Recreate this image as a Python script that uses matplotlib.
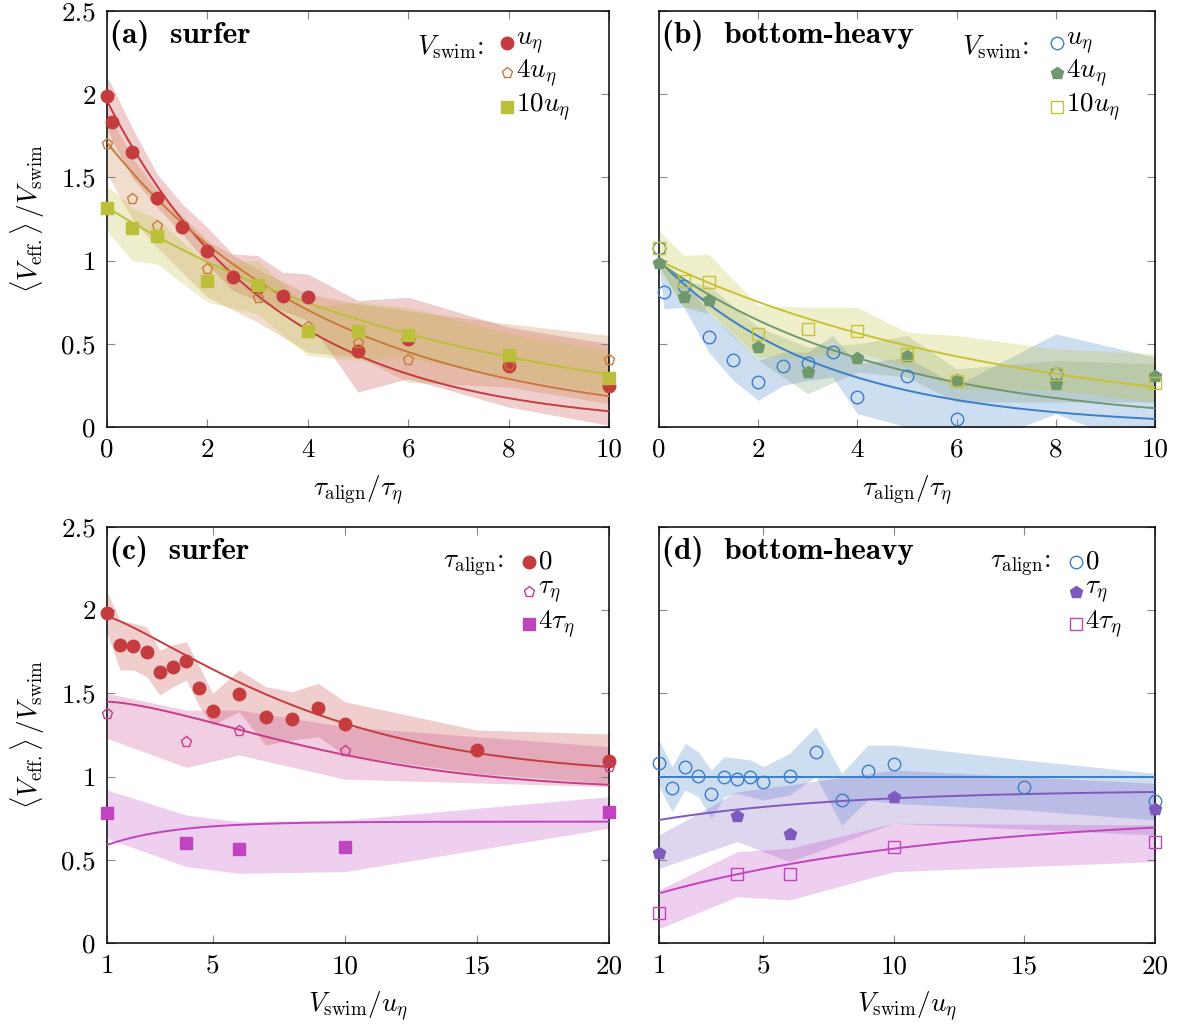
import numpy as np
import matplotlib
matplotlib.use("Agg")
import matplotlib.pyplot as plt

plt.rcParams["font.family"] = "serif"
plt.rcParams["font.serif"] = ["cmr10"]
plt.rcParams["mathtext.fontset"] = "cm"
plt.rcParams["axes.unicode_minus"] = False
plt.rcParams["axes.formatter.use_mathtext"] = True

FS = 19.5

# ---------------- (a) surfer, versus tau_align ----------------
a_x1 = [0, 0.1, 0.5, 1, 1.5, 2, 2.5, 3, 3.5, 4, 5, 6, 8, 10]
a_y1 = [1.99, 1.83, 1.65, 1.375, 1.20, 1.057, 0.90, 0.84, 0.79, 0.78, 0.455, 0.53, 0.366, 0.245]
a_hi1 = [2.10, 2.05, 1.80, 1.52, 1.34, 1.20, 1.04, 1.03, 0.93, 0.92, 0.76, 0.78, 0.60, 0.50]
a_lo1 = [1.80, 1.72, 1.50, 1.32, 1.16, 0.98, 0.82, 0.76, 0.70, 0.64, 0.21, 0.29, 0.12, 0.01]

a_x4 = [0, 0.5, 1, 2, 3, 4, 5, 6, 8, 10]
a_y4 = [1.70, 1.37, 1.207, 0.95, 0.775, 0.60, 0.505, 0.40, 0.37, 0.40]
a_hi4 = [1.90, 1.62, 1.42, 1.12, 0.95, 0.80, 0.74, 0.70, 0.62, 0.55]
a_lo4 = [1.52, 1.25, 1.08, 0.78, 0.63, 0.45, 0.42, 0.27, 0.24, 0.14]

a_x10 = [0, 0.5, 1, 2, 3, 4, 5, 6, 8, 10]
a_y10 = [1.315, 1.195, 1.15, 0.877, 0.855, 0.577, 0.575, 0.555, 0.433, 0.296]
a_hi10 = [1.45, 1.32, 1.25, 0.98, 1.00, 0.72, 0.75, 0.72, 0.56, 0.46]
a_lo10 = [1.18, 1.00, 0.98, 0.75, 0.68, 0.43, 0.40, 0.42, 0.30, 0.20]

# fit parameters: c + A*exp(-((x - x0)/s)**p)
a_fit = [(0, 0.0, 1.96, 3.3, 1.0), (0, 0.0, 1.71, 4.5, 1.0), (0, 0.0, 1.32, 7.0, 1.0)]

# ---------------- (b) bottom-heavy, versus tau_align ----------------
b_x1 = [0, 0.1, 0.5, 1, 1.5, 2, 2.5, 3, 3.5, 4, 5, 6, 8]
b_y1 = [1.077, 0.81, 0.845, 0.54, 0.40, 0.268, 0.366, 0.385, 0.448, 0.18, 0.306, 0.048, 0.318]
b_bx1 = [0, 0.1, 0.5, 1, 1.5, 2, 2.5, 3, 3.5, 4, 5, 6, 8, 10]
b_hi1 = [1.02, 0.95, 0.90, 0.68, 0.55, 0.40, 0.45, 0.45, 0.55, 0.38, 0.42, 0.25, 0.56, 0.42]
b_lo1 = [0.98, 0.71, 0.72, 0.45, 0.28, 0.16, 0.25, 0.28, 0.30, 0.08, 0.0, -0.15, 0.08, -0.15]

b_x4 = [0, 0.5, 1, 2, 3, 4, 5, 6, 8, 10]
b_y4 = [0.985, 0.78, 0.765, 0.478, 0.332, 0.415, 0.427, 0.28, 0.258, 0.306]
b_hi4 = [1.00, 0.88, 0.85, 0.60, 0.48, 0.50, 0.55, 0.35, 0.40, 0.38]
b_lo4 = [0.97, 0.72, 0.68, 0.40, 0.20, 0.33, 0.30, 0.15, 0.15, 0.15]

b_x10 = [0, 0.5, 1, 2, 3, 4, 5, 6, 8, 10]
b_y10 = [1.077, 0.88, 0.87, 0.56, 0.587, 0.577, 0.44, 0.278, 0.318, 0.262]
b_hi10 = [1.18, 1.03, 1.04, 0.73, 0.72, 0.72, 0.57, 0.55, 0.47, 0.44]
b_lo10 = [0.95, 0.72, 0.70, 0.42, 0.42, 0.45, 0.36, 0.23, 0.22, 0.15]

b_fit = [(0, 0.0, 1.0, 3.3, 1.0), (0, 0.0, 0.99, 4.6, 1.0), (0, 0.0, 1.0, 7.0, 1.0)]

# ---------------- (c) surfer, versus V_swim ----------------
c_x0 = [1, 1.5, 2, 2.5, 3, 3.5, 4, 4.5, 5, 6, 7, 8, 9, 10, 15, 20]
c_y0 = [1.985, 1.789, 1.787, 1.747, 1.629, 1.659, 1.697, 1.535, 1.396, 1.494,
        1.36, 1.348, 1.412, 1.316, 1.16, 1.096]
c_hi0 = [2.11, 1.94, 1.92, 1.90, 1.76, 1.79, 1.81, 1.66, 1.50, 1.64,
         1.54, 1.51, 1.56, 1.45, 1.28, 1.256]
c_lo0 = [1.86, 1.64, 1.64, 1.60, 1.49, 1.54, 1.58, 1.42, 1.31, 1.39,
         1.19, 1.22, 1.24, 1.13, 1.02, 0.96]

c_x1 = [1, 4, 6, 10, 20]
c_y1 = [1.376, 1.206, 1.276, 1.152, 1.056]
c_hi1 = [1.50, 1.40, 1.40, 1.30, 1.18]
c_lo1 = [1.23, 1.056, 1.13, 0.985, 0.94]

c_x4 = [1, 4, 6, 10, 20]
c_y4 = [0.781, 0.599, 0.565, 0.575, 0.785]
c_hi4 = [0.92, 0.77, 0.73, 0.74, 0.88]
c_lo4 = [0.63, 0.46, 0.42, 0.43, 0.69]

c_fit = [(1, 1.0, 0.96, 8.34, 1.25), (1, 0.92, 0.53, 9.5, 1.5), (1, 0.73, -0.14, 2.5, 1.0)]

# ---------------- (d) bottom-heavy, versus V_swim ----------------
d_x0 = [1, 1.5, 2, 2.5, 3, 3.5, 4, 4.5, 5, 6, 7, 8, 9, 10, 15, 20]
d_y0 = [1.08, 0.93, 1.06, 1.005, 0.894, 1.0, 0.986, 1.0, 0.968, 1.005,
        1.15, 0.857, 1.036, 1.076, 0.94, 0.855]
d_hi0 = [1.22, 1.06, 1.20, 1.15, 1.04, 1.12, 1.11, 1.10, 1.06, 1.14,
         1.30, 1.02, 1.19, 1.19, 1.10, 1.02]
d_lo0 = [0.94, 0.79, 0.92, 0.88, 0.75, 0.88, 0.90, 0.88, 0.86, 0.89,
         1.00, 0.71, 0.86, 0.84, 0.80, 0.74]

d_x1 = [1, 4, 6, 10, 20]
d_y1 = [0.543, 0.763, 0.653, 0.875, 0.803]
d_hi1 = [0.65, 0.91, 0.95, 1.04, 0.96]
d_lo1 = [0.45, 0.61, 0.49, 0.72, 0.65]

d_x4 = [1, 4, 6, 10, 20]
d_y4 = [0.182, 0.413, 0.413, 0.575, 0.609]
d_hi4 = [0.32, 0.55, 0.57, 0.72, 0.71]
d_lo4 = [0.088, 0.28, 0.26, 0.43, 0.49]

d_fit = [(1, 1.0, 0.0, 1.0, 1.0), (1, 0.92, -0.18, 7.0, 1.0), (1, 0.78, -0.48, 11.0, 1.0)]

RED = "#c43c3e"
ORANGE = "#c87a3a"
OLIVE = "#bcbf3a"
BLUE = "#3c7ec8"
GREEN = "#6f986f"
YEL = "#c6c235"
PINK = "#c83c8a"
VIOLET = "#c043c0"
PURPLE = "#7d5abe"


def fit_curve(x, pars):
    x0, c, A, s, p = pars
    return c + A * np.exp(-(((x - x0) / s) ** p))


def draw_series(ax, x, y, bx, lo, hi, pars, xr, color, marker, ms, filled, lw=1.4):
    ax.fill_between(bx, lo, hi, color=color, alpha=0.25, lw=0)
    xx = np.linspace(xr[0], xr[1], 300)
    ax.plot(xx, fit_curve(xx, pars), color=color, lw=lw, zorder=3)
    ax.plot(x, y, ls="none", marker=marker, ms=ms, mec=color,
            mfc=color if filled else "none", mew=1.0, zorder=4, clip_on=False)


def legend_block(ax, title, tx, mx, rows, entries):
    ax.text(tx, rows[0] - 0.012, title, transform=ax.transAxes, ha="right",
            va="center", fontsize=FS)
    for (lab, color, marker, ms, filled), ry in zip(entries, rows):
        ax.plot([mx], [ry], transform=ax.transAxes, marker=marker, ms=ms,
                mec=color, mfc=color if filled else "none", mew=1.0, clip_on=False)
        ax.text(mx + 0.018, ry, lab, transform=ax.transAxes, ha="left",
                va="center", fontsize=FS)


def style_axes(ax, xlim, xticks, ylabels):
    ax.set_xlim(*xlim)
    ax.set_ylim(0, 2.5)
    ax.set_xticks(xticks)
    ax.set_yticks([0, 0.5, 1, 1.5, 2, 2.5])
    ax.set_xticklabels([str(t) for t in xticks])
    if ylabels:
        ax.set_yticklabels(["0", "0.5", "1", "1.5", "2", "2.5"])
    else:
        ax.set_yticklabels([])
    ax.tick_params(direction="in", length=6, width=0.8, color="#888888",
                   top=True, right=True, labelsize=FS, pad=8)
    for sp in ax.spines.values():
        sp.set_linewidth(1.1)


fig = plt.figure(figsize=(11.83, 10.29), dpi=100)
W, H = 1183.0, 1029.0
axA = fig.add_axes([107 / W, 1 - 427 / H, 502 / W, 416 / H])
axB = fig.add_axes([659 / W, 1 - 427 / H, 496 / W, 416 / H])
axC = fig.add_axes([107 / W, 1 - 943.3 / H, 502 / W, 416.6 / H])
axD = fig.add_axes([659 / W, 1 - 943.3 / H, 496 / W, 416.6 / H])

# (a)
draw_series(axA, a_x1, a_y1, a_x1, a_lo1, a_hi1, a_fit[0], (0, 10), RED, "o", 9, True)
draw_series(axA, a_x4, a_y4, a_x4, a_lo4, a_hi4, a_fit[1], (0, 10), ORANGE, "p", 8, False)
draw_series(axA, a_x10, a_y10, a_x10, a_lo10, a_hi10, a_fit[2], (0, 10), OLIVE, "s", 8.5, True)

# (b)
draw_series(axB, b_x1, b_y1, b_bx1, b_lo1, b_hi1, b_fit[0], (0, 10), BLUE, "o", 9, False)
draw_series(axB, b_x4, b_y4, b_x4, b_lo4, b_hi4, b_fit[1], (0, 10), GREEN, "p", 9, True)
draw_series(axB, b_x10, b_y10, b_x10, b_lo10, b_hi10, b_fit[2], (0, 10), YEL, "s", 8.5, False)

# (c)
draw_series(axC, c_x0, c_y0, c_x0, c_lo0, c_hi0, c_fit[0], (1, 20), RED, "o", 9, True)
draw_series(axC, c_x1, c_y1, c_x1, c_lo1, c_hi1, c_fit[1], (1, 20), PINK, "p", 8, False)
draw_series(axC, c_x4, c_y4, c_x4, c_lo4, c_hi4, c_fit[2], (1, 20), VIOLET, "s", 8.5, True)

# (d)
draw_series(axD, d_x0, d_y0, d_x0, d_lo0, d_hi0, d_fit[0], (1, 20), BLUE, "o", 9, False)
draw_series(axD, d_x1, d_y1, d_x1, d_lo1, d_hi1, d_fit[1], (1, 20), PURPLE, "p", 9, True)
draw_series(axD, d_x4, d_y4, d_x4, d_lo4, d_hi4, d_fit[2], (1, 20), VIOLET, "s", 8.5, False)

style_axes(axA, (0, 10), [0, 2, 4, 6, 8, 10], True)
style_axes(axB, (0, 10), [0, 2, 4, 6, 8, 10], False)
style_axes(axC, (1, 20), [1, 5, 10, 15, 20], True)
style_axes(axD, (1, 20), [1, 5, 10, 15, 20], False)

ylab = r"$\langle V_{\rm eff.}\rangle\,/V_{\rm swim}$"
for ax in (axA, axC):
    ax.set_ylabel(ylab, fontsize=FS, labelpad=10)
for ax in (axA, axB):
    ax.set_xlabel(r"$\tau_{\rm align}/\tau_\eta$", fontsize=FS, labelpad=8)
for ax in (axC, axD):
    ax.set_xlabel(r"$V_{\rm swim}/u_\eta$", fontsize=FS, labelpad=8)

for ax, lab in zip((axA, axB, axC, axD),
                   ["(a)  surfer", "(b)  bottom-heavy", "(c)  surfer", "(d)  bottom-heavy"]):
    ax.text(0.006, 0.978, lab, transform=ax.transAxes, ha="left", va="top",
            fontsize=22.5, family="cmb10")

rows_top = [0.924, 0.850, 0.770]
legend_block(axA, r"$V_{\rm swim}$:", 0.75, 0.797, rows_top,
             [(r"$u_\eta$", RED, "o", 9, True), (r"$4u_\eta$", ORANGE, "p", 8, False),
              (r"$10u_\eta$", OLIVE, "s", 8.5, True)])
legend_block(axB, r"$V_{\rm swim}$:", 0.745, 0.803, rows_top,
             [(r"$u_\eta$", BLUE, "o", 9, False), (r"$4u_\eta$", GREEN, "p", 9, True),
              (r"$10u_\eta$", YEL, "s", 8.5, False)])
rows_bot = [0.916, 0.844, 0.766]
legend_block(axC, r"$\tau_{\rm align}$:", 0.79, 0.841, rows_bot,
             [(r"$0$", RED, "o", 9, True), (r"$\tau_\eta$", PINK, "p", 8, False),
              (r"$4\tau_\eta$", VIOLET, "s", 8.5, True)])
legend_block(axD, r"$\tau_{\rm align}$:", 0.79, 0.840, rows_bot,
             [(r"$0$", BLUE, "o", 9, False), (r"$\tau_\eta$", PURPLE, "p", 9, True),
              (r"$4\tau_\eta$", VIOLET, "s", 8.5, False)])

fig.savefig("out.png", dpi=100)
